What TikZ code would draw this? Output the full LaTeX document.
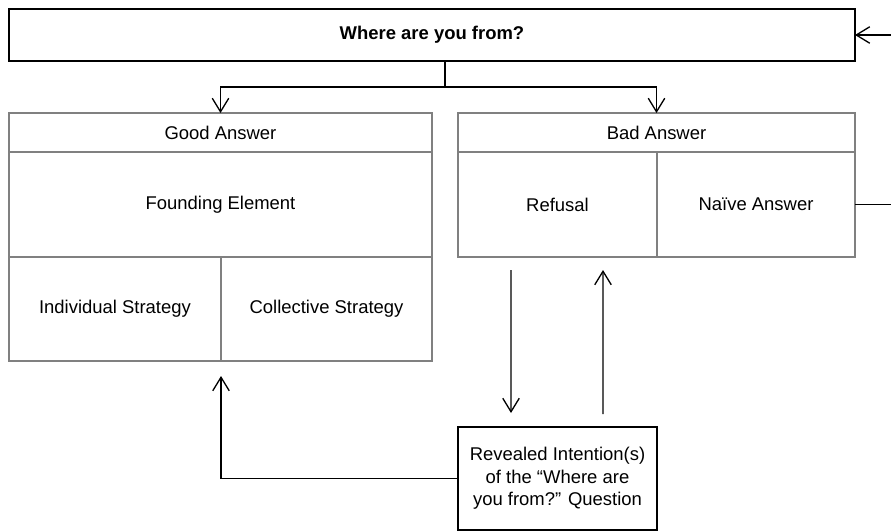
\documentclass[tikz,border=0pt]{standalone}
\usepackage{fontspec}
\setmainfont{Liberation Sans}
\usepackage{xcolor}
\usetikzlibrary{shapes,positioning,arrows.meta}

\begin{document}
\begin{tikzpicture}[
    % Define node styles
    scale = 1,
    node distance = 0pt,
    font = \fontsize{10.5}{12.8}\selectfont,
    question/.style={rectangle, draw, line width=1.1pt, outer sep=0pt, minimum width=16.92cm, minimum height=1.04cm, font=\fontsize{10.5}{12.8}\selectfont\bfseries},
    cell/.style={rectangle, draw=black!50, line width=0.8pt, outer sep=0pt, align=center},
    header/.style={cell, minimum height=0.78cm},
    reveal/.style={rectangle, draw, line width=0.8pt, outer sep=0pt, minimum width=3.98cm, minimum height=2.06cm, align=center},
    conn/.style={-{Straight Barb[length=2.7mm, width=3.3mm]}, line width=0.75pt},
]
\useasboundingbox (0,0) rectangle (17.82,-10.62);

% Main nodes
\node[question] (where) at (8.64,-0.70) {Where are you from?};

\node[header, minimum width=8.46cm] (good) at (4.41,-2.65) {Good Answer};
\node[cell, minimum width=8.46cm, minimum height=2.10cm, below= of good] (found) {Founding Element};
\node[cell, minimum width=4.24cm, minimum height=2.08cm, below= of found.south west, anchor=north west] (indiv) {Individual Strategy};
\node[cell, minimum width=4.22cm, minimum height=2.08cm, right= of indiv] (coll) {Collective Strategy};

\node[header, minimum width=7.94cm] (bad) at (13.13,-2.65) {Bad Answer};
\node[cell, minimum width=3.98cm, minimum height=2.10cm, below= of bad.south west, anchor=north west] (refusal) {Refusal};
\node[cell, minimum width=3.96cm, minimum height=2.10cm, right= of refusal] (naive) {Naïve Answer};

\node[reveal] (reveal) at (11.15,-9.57) {Revealed Intention(s)\\of the “Where are\\you from?” Question};

% Arrows
\coordinate (split) at (8.90,-1.74);
\draw[conn] (split |- where.south) -- (split) -| (good.north);
\draw[conn] (split) -| (bad.north);

\draw[conn, shorten <=0.26cm, shorten >=0.28cm] ([xshift=-0.93cm]refusal.south) -- ([xshift=-0.93cm]reveal.north);
\draw[conn, shorten <=0.26cm, shorten >=0.26cm] ([xshift=0.91cm]reveal.north) -- ([xshift=0.91cm]refusal.south);

\draw[conn, shorten >=0.30cm] (reveal.west) -| (indiv.south east);
\draw[conn] (naive.east) -- ++(0.9,0) |- (where.east);

\end{tikzpicture}
\end{document}
